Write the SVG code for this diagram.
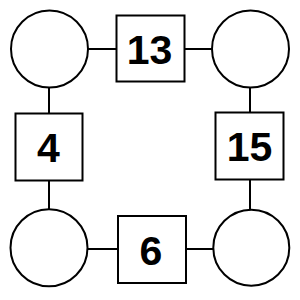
<svg xmlns="http://www.w3.org/2000/svg" width="300" height="300" viewBox="0 0 300 300">
<style>
.c{fill:#fff;stroke:#000;stroke-width:2}
.s{fill:#fff;stroke:#000;stroke-width:2}
.l{stroke:#000;stroke-width:2;fill:none}
.t{font-family:"Liberation Sans",Arial,sans-serif;font-weight:bold;font-size:41px;text-anchor:middle;fill:#000}
</style>
<rect width="300" height="300" fill="#fff"/>
<g id="connectors">
<line class="l" x1="88" y1="49" x2="117" y2="49"/>
<line class="l" x1="184" y1="49" x2="212" y2="49"/>
<line class="l" x1="49" y1="88" x2="49" y2="113"/>
<line class="l" x1="250" y1="88" x2="250" y2="112"/>
<line class="l" x1="49" y1="181" x2="49" y2="209"/>
<line class="l" x1="250" y1="179" x2="250" y2="209"/>
<line class="l" x1="88" y1="249" x2="118" y2="249"/>
<line class="l" x1="186" y1="249" x2="213" y2="249"/>
</g>
<g id="c1"><circle class="c" cx="49.5" cy="49" r="38.5"/></g>
<g id="c2"><circle class="c" cx="250.5" cy="49" r="38.5"/></g>
<g id="c3"><circle class="c" cx="49" cy="247.7" r="38.5"/></g>
<g id="c4"><circle class="c" cx="251.3" cy="247.7" r="38"/></g>
<g id="n13"><rect class="s" x="116.5" y="15.5" width="68" height="66"/><text class="t" x="149.5" y="64">13</text></g>
<g id="n4"><rect class="s" x="15.5" y="113.5" width="67" height="67"/><text class="t" x="48.5" y="162">4</text></g>
<g id="n15"><rect class="s" x="215.5" y="112.5" width="68" height="67"/><text class="t" x="249.5" y="160.7">15</text></g>
<g id="n6"><rect class="s" x="118" y="216" width="68" height="67"/><text class="t" x="151" y="264.7">6</text></g>
</svg>
